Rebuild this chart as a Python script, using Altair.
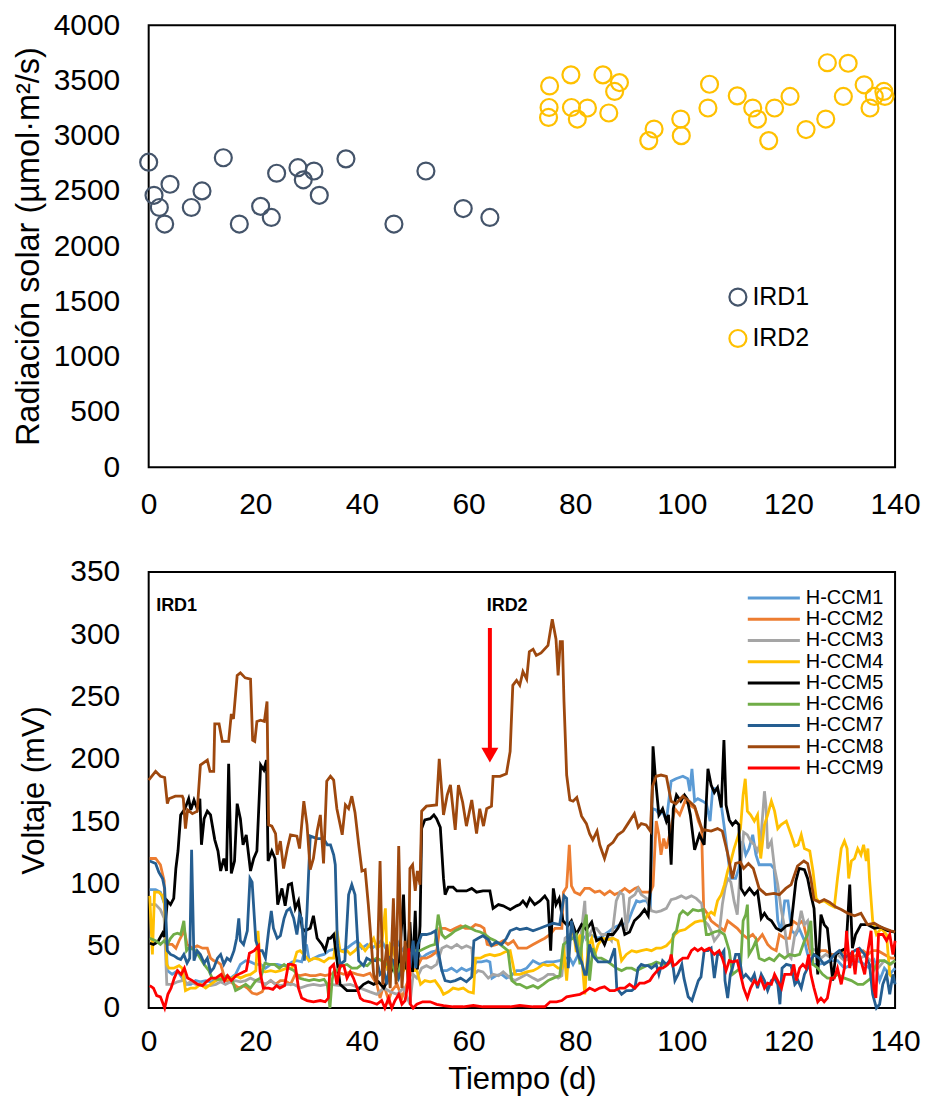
import altair as alt
import pandas as pd

FONT = "Liberation Sans"

# ---------------- Radiación solar (panel superior) ----------------
IRD1_DIA = [0, 1, 2, 3, 4, 8, 10, 14, 17, 21, 23, 24, 28, 29, 31, 32, 37, 46, 52, 59, 64]
IRD1_RAD = [2760, 2460, 2350, 2200, 2560, 2350, 2500, 2800, 2200, 2360, 2260,
            2660, 2710, 2600, 2680, 2460, 2790, 2200, 2680, 2340, 2260]

IRD2_DIA = [75.2, 79.2, 75.1, 75.0, 79.3, 80.4, 82.3, 85.2, 86.3, 88.3, 87.4,
            93.8, 94.8, 99.8, 99.9, 105.2, 104.9, 110.4, 113.3, 114.2, 116.3,
            117.4, 120.3, 123.3, 127.0, 127.3, 131.2, 130.3, 134.2, 135.3, 136.1,
            137.9, 138.1]
IRD2_RAD = [3450, 3550, 3255, 3165, 3255, 3150, 3250, 3550, 3205, 3480, 3400,
            2955, 3060, 3150, 3000, 3465, 3250, 3360, 3250, 3150, 2955,
            3250, 3355, 3055, 3150, 3660, 3655, 3355, 3460, 3250, 3355,
            3400, 3355]

DIA_TICKS = [0, 20, 40, 60, 80, 100, 120, 140]
RAD_TICKS = [0, 500, 1000, 1500, 2000, 2500, 3000, 3500, 4000]
MV_TICKS = [0, 50, 100, 150, 200, 250, 300, 350]

# ---------------- Voltaje de cada celda (panel inferior) ----------------
SERIES = ["H-CCM1", "H-CCM2", "H-CCM3", "H-CCM4", "H-CCM5",
          "H-CCM6", "H-CCM7", "H-CCM8", "H-CCM9"]
COLORES = ["#5B9BD5", "#ED7D31", "#A5A5A5", "#FFC000", "#000000",
           "#70AD47", "#255E91", "#9E480E", "#FF0000"]

# (día, mV)
H_CCM1 = [(0.2,95),(1.3,95),(2.2,93),(3.0,83),(3.5,30),(4.4,27),(5.4,30),(6.3,24),(7.2,19),(7.9,19),
          (8.8,22),(9.7,21),(10.7,22),(11.6,21),(12.6,22),(13.5,24),(14.4,22),(15.4,24),(16.3,27),(17.2,35),
          (18.2,38),(19.1,37),(20.1,35),(21.0,35),(21.9,32),(22.9,35),(24.1,35),(25.0,34),(25.9,34),(26.9,37),
          (27.8,38),(28.7,37),(29.6,51),(30.1,38),(31.0,40),(32.0,42),(32.9,43),(33.8,46),(35.3,48),(36.3,46),
          (37.2,48),(38.1,51),(39.1,54),(40.0,48),(41.0,51),(41.9,48),(42.8,51),(43.7,54),(44.7,46),(45.3,40),
          (45.9,51),(46.6,54),(47.5,46),(48.4,51),(49.4,48),(50.3,46),(51.2,40),(52.1,43),(53.0,45),(54.0,46),
          (55.0,30),(55.9,30),(56.8,32),(57.8,29),(58.7,32),(59.6,30),(60.6,32),(61.5,37),(62.4,37),(63.4,38),
          (64.0,37),(64.4,24),(65.2,26),(66.2,27),(67.1,24),(68.0,26),(69.0,30),(69.9,30),(70.9,32),(72.1,38),
          (73.4,35),(74.6,37),(75.9,37),(77.1,38),(78.1,40),(79.0,40),(79.6,35),(80.6,43),(81.5,56),(82.4,59),
          (83.3,58),(84.3,56),(85.2,58),(86.2,61),(87.1,64),(88.0,66),(89.0,67),(89.9,69),(90.8,79),(91.5,86),
          (92.1,85),(92.7,86),(93.4,86),(94.1,80),(94.5,160),(95.2,159),(95.8,155),(96.4,158),(97.1,150),(98.0,182),
          (98.9,184),(100.2,186),(101.1,184),(101.5,174),(101.9,192),(102.4,166),(103.0,168),(103.9,166),(104.6,164),(105.3,150),
          (105.8,176),(106.7,176),(107.4,163),(108.0,144),(108.6,123),(109.2,104),(110.1,104),(110.7,112),(111.4,134),(112.0,123),
          (112.6,128),(113.3,139),(113.9,123),(114.5,115),(115.1,115),(115.8,115),(116.7,115),(117.3,112),(118.0,70),(118.6,62),
          (119.3,86),(119.9,86),(120.6,62),(121.4,59),(122.0,64),(123.0,54),(123.6,43),(124.5,35),(125.5,35),(126.7,36),
          (128.0,38),(129.2,38),(130.5,32),(131.8,35),(133.0,38),(134.3,35),(135.2,32),(136.1,38),(137.1,22),(138.0,32),
          (139.0,27),(140.0,32)]

H_CCM2 = [(0.2,120),(1.3,120),(2.2,115),(2.9,102),(3.2,51),(3.8,51),(4.4,51),(5.1,48),(5.7,54),(6.3,59),
          (6.6,64),(7.2,51),(8.2,48),(9.1,50),(10.1,48),(11.0,48),(11.6,40),(12.2,38),(12.9,37),(13.5,35),
          (14.4,22),(15.1,22),(16.0,19),(16.9,16),(17.8,18),(18.5,16),(19.4,12),(20.3,11),(21.3,13),(21.9,19),
          (22.9,22),(23.8,19),(24.7,22),(25.6,22),(26.6,19),(27.5,27),(28.4,26),(29.4,27),(30.3,26),(31.3,26),
          (32.2,27),(33.1,26),(34.1,27),(35.3,29),(36.6,27),(37.8,29),(39.1,27),(40.3,26),(41.5,28),(42.8,19),
          (43.4,8),(44.1,19),(45.0,6),(45.6,14),(46.6,19),(47.5,8),(48.4,19),(49.4,29),(50.3,32),(51.2,40),
          (52.1,40),(53.0,42),(54.0,45),(54.6,64),(55.6,64),(56.6,62),(57.5,64),(58.5,66),(59.4,64),(60.4,64),
          (61.3,67),(62.2,66),(62.9,64),(63.5,51),(64.4,50),(65.3,51),(66.5,54),(67.4,51),(68.4,54),(69.3,48),
          (70.9,48),(72.1,51),(73.4,54),(74.3,56),(75.3,59),(76.2,64),(77.5,64),(77.8,93),(78.4,97),(78.9,131),
          (79.3,98),(79.9,93),(80.9,91),(81.8,96),(82.7,96),(83.7,93),(84.6,94),(85.5,91),(86.5,94),(87.4,91),
          (88.4,93),(89.3,96),(90.2,93),(91.2,96),(91.8,97),(92.4,93),(93.4,93),(94.1,93),(94.6,98),(95.2,150),
          (95.7,139),(96.1,123),(96.6,136),(97.1,128),(97.7,139),(98.7,160),(99.6,155),(100.6,166),(101.5,163),(102.5,160),
          (103.1,150),(103.7,144),(104.1,80),(104.9,75),(105.5,70),(106.4,67),(107.4,64),(108.0,62),(108.6,70),(109.5,67),
          (110.4,64),(111.4,59),(112.3,56),(113.3,59),(114.2,54),(115.1,59),(116.1,51),(116.8,48),(117.7,46),(118.3,59),
          (119.3,56),(120.2,56),(120.8,70),(121.8,67),(122.7,70),(123.3,59),(124.2,43),(125.2,43),(126.1,46),(127.0,46),
          (128.0,43),(128.9,43),(129.9,46),(130.8,43),(131.8,40),(133.0,43),(134.0,46),(134.9,43),(135.8,46),(136.8,46),
          (138.0,43),(139.2,40),(140.0,40)]

H_CCM3 = [(0.2,83),(1.3,83),(2.2,79),(2.9,72),(3.4,19),(4.4,19),(5.4,21),(6.3,22),(6.6,30),(6.9,19),
          (7.9,21),(8.8,19),(9.7,19),(10.7,18),(11.6,18),(12.6,19),(13.5,21),(14.4,19),(15.4,21),(16.3,22),
          (17.2,21),(18.2,22),(19.1,24),(20.1,22),(21.0,21),(21.9,19),(22.9,22),(23.8,19),(24.7,18),(25.9,19),
          (27.2,19),(28.4,16),(29.7,18),(30.9,19),(32.2,18),(33.4,19),(34.1,19),(35.9,18),(37.8,19),(39.7,16),
          (41.5,13),(42.8,11),(44.1,16),(45.3,13),(46.6,11),(47.8,16),(49.0,3),(49.6,27),(50.3,24),(51.2,32),
          (52.1,34),(53.0,32),(54.0,35),(55.0,48),(55.9,50),(56.8,48),(57.8,51),(58.7,48),(59.6,50),(60.6,48),
          (61.0,27),(61.8,30),(62.7,29),(63.7,24),(64.6,27),(65.6,26),(66.5,29),(67.8,24),(68.7,22),(69.6,24),
          (70.9,27),(72.1,24),(73.0,22),(74.0,24),(74.9,27),(75.9,27),(76.8,24),(77.5,26),(78.1,56),(79.0,59),
          (80.0,54),(80.9,51),(81.8,86),(82.1,56),(82.7,59),(83.3,64),(84.0,64),(84.9,59),(85.8,59),(86.8,54),
          (87.7,86),(88.4,93),(89.0,91),(89.6,62),(90.2,88),(91.2,91),(91.8,96),(92.4,91),(93.4,88),(94.3,78),
          (95.2,77),(96.1,78),(97.1,80),(98.0,87),(98.9,88),(99.9,90),(100.8,88),(101.8,90),(102.7,88),(103.7,84),
          (104.2,70),(104.9,67),(105.5,62),(106.1,54),(107.0,59),(107.6,83),(108.1,96),(108.6,104),(109.2,101),(109.8,86),
          (110.4,75),(111.0,112),(111.6,141),(112.3,139),(112.9,134),(113.6,131),(114.2,126),(114.8,134),(115.5,174),(115.8,161),
          (116.1,128),(116.8,134),(117.4,112),(118.0,99),(118.6,80),(119.3,64),(119.9,43),(120.5,40),(121.2,59),(121.8,64),
          (122.4,78),(123.0,67),(123.6,70),(124.2,48),(125.2,46),(126.1,40),(127.0,43),(128.0,40),(129.2,43),(130.5,38),
          (131.8,40),(133.0,39),(134.3,42),(135.5,38),(136.8,32),(138.0,38),(139.2,35),(140.0,38)]

H_CCM4 = [(0.2,90),(0.7,43),(1.1,93),(1.9,93),(2.6,90),(3.0,83),(3.4,35),(3.8,32),(4.7,32),(5.7,34),
          (6.3,32),(6.9,14),(7.9,16),(8.8,16),(9.7,19),(10.7,16),(11.6,19),(12.6,22),(13.5,24),(14.4,24),
          (15.4,23),(16.3,26),(17.2,24),(18.2,26),(19.1,27),(20.1,30),(20.5,62),(21.0,30),(21.9,29),(22.9,30),
          (23.8,29),(24.7,30),(25.9,32),(26.9,32),(27.8,45),(28.4,46),(29.1,43),(30.1,38),(31.0,40),(32.0,39),
          (32.9,37),(33.8,40),(34.7,40),(35.3,62),(35.9,46),(36.6,45),(37.2,46),(37.8,43),(38.7,46),(39.7,51),
          (40.6,46),(41.5,51),(42.2,56),(42.8,48),(43.7,51),(44.4,80),(44.8,30),(45.3,51),(45.9,48),(46.6,30),
          (47.2,38),(47.8,30),(48.4,35),(49.4,30),(50.3,30),(51.0,19),(51.8,22),(52.8,21),(53.7,22),(54.7,16),
          (55.3,11),(56.2,13),(57.1,16),(58.1,15),(59.0,16),(60.0,13),(60.9,12),(61.3,40),(62.2,40),(63.1,42),
          (64.0,43),(64.9,42),(65.9,43),(66.8,45),(67.8,46),(68.7,27),(69.6,27),(70.9,29),(72.1,30),(73.0,32),
          (74.0,35),(74.9,34),(75.9,35),(76.8,32),(77.5,32),(77.8,51),(78.4,22),(79.0,56),(79.6,64),(80.2,45),
          (80.9,59),(81.8,11),(82.4,48),(83.1,56),(83.7,43),(84.3,51),(85.2,56),(86.2,55),(87.1,56),(88.0,54),
          (88.7,38),(89.6,43),(90.6,46),(91.5,45),(92.4,46),(93.4,47),(94.3,46),(95.2,48),(96.1,48),(97.1,50),
          (98.0,54),(98.7,59),(99.6,62),(100.6,63),(101.5,66),(102.5,69),(103.4,70),(104.2,70),(104.9,75),(105.5,77),
          (106.1,75),(106.7,86),(107.4,91),(108.0,99),(108.6,110),(109.2,118),(109.8,128),(110.4,136),(111.0,144),(111.5,171),
          (111.9,184),(112.3,158),(112.9,155),(113.6,150),(114.2,155),(114.8,120),(115.5,147),(116.1,155),(116.8,166),(117.4,158),
          (118.0,144),(118.6,147),(119.6,150),(120.5,139),(121.2,130),(121.8,131),(122.4,139),(123.0,128),(124.0,126),(124.6,110),
          (125.2,88),(125.8,85),(126.7,86),(127.7,83),(128.6,81),(129.2,104),(129.9,128),(130.5,134),(131.0,128),(131.3,104),
          (131.8,118),(132.4,120),(133.0,128),(133.6,123),(134.1,131),(134.6,118),(134.9,128),(135.2,104),(135.8,70),(136.5,59),
          (137.4,64),(138.4,59),(139.0,27),(139.6,24),(140.0,24)]

H_CCM5 = [(0.2,52),(0.9,51),(1.7,53),(2.6,60),(2.9,57),(3.5,86),(4.1,83),(4.7,88),(5.1,112),(5.5,126),
          (6.0,155),(6.8,160),(7.5,168),(7.9,159),(8.5,167),(9.1,160),(9.6,168),(9.9,131),(10.4,152),(11.0,158),
          (11.6,155),(12.4,135),(13.0,126),(13.5,110),(14.1,120),(14.6,110),(15.0,196),(15.5,108),(16.1,118),(16.6,164),
          (17.2,152),(17.7,131),(18.3,139),(19.1,110),(19.7,120),(20.3,126),(21.0,195),(21.6,191),(22.1,199),(22.4,118),
          (23.1,126),(23.7,120),(24.2,83),(25.0,96),(25.6,82),(26.2,99),(26.8,100),(27.5,80),(28.1,86),(28.8,64),
          (29.3,62),(30.3,64),(30.9,74),(31.6,56),(32.5,51),(33.1,46),(33.7,56),(34.1,56),(34.7,59),(35.3,39),
          (35.9,19),(37.2,14),(39.1,14),(40.3,19),(41.2,21),(42.2,19),(43.1,21),(44.1,16),(45.0,24),(45.9,34),
          (46.9,29),(47.8,91),(48.3,31),(49.0,69),(49.5,29),(50.0,78),(50.4,31),(50.9,66),(51.2,144),(51.8,151),
          (52.8,152),(53.5,155),(54.0,152),(54.7,145),(55.3,104),(55.6,91),(56.2,97),(57.1,97),(57.8,94),(58.7,94),
          (59.6,94),(60.6,96),(61.5,93),(62.7,94),(64.0,94),(64.6,80),(65.6,83),(66.5,82),(67.8,79),(69.0,82),
          (69.6,83),(70.2,86),(70.9,82),(71.5,88),(72.4,83),(73.4,86),(74.3,90),(74.9,86),(75.4,46),(75.9,96),
          (76.4,83),(77.0,88),(77.7,70),(78.6,66),(79.3,70),(80.2,59),(81.2,67),(82.1,63),(83.1,69),(84.0,54),
          (84.9,56),(85.5,51),(86.2,59),(87.1,59),(88.0,64),(88.7,70),(89.3,59),(90.2,61),(91.1,70),(92.1,74),
          (93.0,79),(93.7,74),(94.1,96),(94.6,210),(95.1,182),(95.7,155),(96.4,160),(97.1,150),(97.5,155),(98.0,115),
          (98.4,160),(99.0,171),(99.8,166),(100.5,171),(101.0,168),(101.6,155),(102.4,127),(103.3,139),(104.2,131),(104.9,192),
          (105.5,179),(106.1,173),(106.7,177),(107.4,161),(107.9,215),(108.3,163),(108.9,151),(109.5,147),(110.1,150),(110.7,147),
          (111.1,96),(111.8,91),(112.7,96),(113.6,91),(114.2,94),(114.9,72),(115.5,76),(116.1,72),(116.8,70),(117.7,64),
          (118.6,62),(119.6,66),(120.5,67),(121.4,102),(122.0,112),(123.0,111),(123.6,104),(124.2,91),(124.8,80),(125.5,27),
          (126.1,75),(126.7,67),(127.3,64),(128.3,22),(128.9,43),(129.9,46),(130.8,48),(131.5,99),(132.0,48),(132.6,59),
          (133.6,67),(134.8,67),(136.1,64),(137.3,65),(138.6,62),(140.0,61)]

H_CCM6 = [(0.2,56),(1.3,54),(2.2,51),(2.9,54),(3.5,51),(4.1,56),(4.7,59),(5.4,60),(6.0,59),(6.6,70),
          (7.1,46),(7.5,48),(8.5,47),(9.4,42),(10.4,35),(11.3,30),(11.9,24),(12.9,23),(13.8,23),(14.7,26),
          (15.7,22),(16.3,14),(17.2,16),(18.2,19),(19.1,16),(20.1,22),(21.0,24),(21.8,36),(22.6,35),(23.6,35),
          (24.5,32),(25.4,35),(26.3,32),(27.3,30),(28.2,24),(29.1,23),(30.1,22),(31.0,23),(32.0,22),(32.9,23),
          (33.5,19),(34.0,0),(34.4,22),(34.7,29),(35.3,30),(36.3,34),(37.2,35),(38.1,32),(39.1,32),(40.0,35),
          (41.0,34),(41.9,38),(42.8,40),(43.7,38),(44.7,35),(45.6,37),(46.6,22),(47.2,35),(48.1,40),(49.0,43),
          (50.0,46),(50.9,46),(51.8,48),(52.8,50),(53.7,51),(54.3,75),(55.0,59),(55.6,56),(56.6,59),(57.5,62),
          (58.5,64),(59.4,66),(60.4,64),(61.3,62),(62.2,61),(63.1,59),(64.0,56),(65.0,54),(65.9,51),(66.8,48),
          (67.4,46),(68.1,22),(69.0,19),(69.6,19),(70.9,16),(72.1,18),(73.0,16),(74.0,19),(74.9,22),(75.9,24),
          (77.1,26),(77.8,51),(78.7,54),(79.6,56),(80.2,59),(80.9,35),(81.5,64),(82.1,75),(82.7,22),(83.3,48),
          (84.0,40),(84.9,40),(85.8,38),(86.8,35),(87.7,32),(88.7,30),(89.6,32),(90.6,32),(91.5,30),(92.4,32),
          (93.4,34),(94.3,35),(95.2,37),(96.4,35),(97.4,35),(98.0,38),(98.4,59),(99.0,62),(99.6,75),(100.2,78),
          (101.1,75),(102.1,79),(103.1,78),(104.0,79),(104.6,59),(105.1,59),(106.1,61),(107.0,62),(108.0,59),(108.9,46),
          (109.5,27),(110.4,30),(111.0,32),(111.5,70),(112.0,75),(112.3,83),(112.6,43),(113.3,48),(113.9,54),(114.5,40),
          (115.5,38),(116.4,40),(117.3,38),(118.3,43),(119.3,40),(120.2,43),(121.2,42),(122.1,43),(123.0,54),(123.6,59),
          (124.2,70),(124.6,35),(125.5,32),(126.4,27),(127.3,24),(128.3,24),(129.2,27),(130.5,24),(131.8,22),(133.0,19),
          (134.0,19),(134.9,22),(135.5,24),(136.1,32),(137.1,38),(138.0,38),(139.0,35),(140.0,38)]

H_CCM7 = [(0.2,118),(1.3,116),(1.9,109),(2.6,104),(3.0,96),(3.5,46),(4.1,43),(4.7,42),(5.4,40),(6.0,39),
          (6.6,43),(7.2,36),(7.7,40),(8.05,127),(8.5,38),(9.1,46),(9.7,43),(10.4,36),(11.0,40),(11.6,29),
          (12.2,32),(12.9,40),(13.5,43),(14.1,35),(14.7,40),(15.3,38),(16.0,46),(16.5,56),(16.9,72),(17.2,54),
          (17.8,51),(18.5,62),(19.0,104),(19.4,101),(20.1,54),(20.7,46),(21.3,46),(21.9,40),(22.5,62),(23.0,78),
          (23.4,64),(24.1,56),(24.7,58),(25.4,72),(25.9,78),(26.5,80),(27.2,72),(27.8,59),(28.3,75),(28.7,72),
          (29.2,38),(29.7,78),(30.3,138),(31.6,136),(32.8,136),(33.5,131),(34.1,131),(34.7,123),(35.0,115),(35.4,51),
          (35.9,35),(36.8,38),(37.5,91),(38.1,99),(38.7,91),(39.4,38),(40.3,34),(40.9,40),(41.8,38),(42.8,38),
          (43.4,27),(44.1,30),(44.7,19),(45.3,40),(45.9,38),(46.9,24),(47.5,32),(48.1,46),(49.0,32),(49.6,54),
          (50.1,32),(50.5,51),(51.2,59),(52.1,59),(53.0,60),(53.8,62),(54.3,46),(55.0,30),(55.6,22),(56.6,21),
          (57.5,22),(58.5,24),(59.6,21),(60.6,25),(61.0,54),(61.8,56),(62.7,58),(63.7,55),(64.3,50),(65.2,53),
          (66.2,51),(67.1,56),(67.8,62),(69.0,64),(69.6,63),(70.9,64),(72.1,62),(73.4,64),(74.6,66),(75.9,68),
          (77.1,67),(77.9,90),(78.4,88),(78.7,32),(79.3,70),(79.9,56),(80.6,42),(81.2,37),(81.8,27),(82.1,27),
          (82.7,51),(83.3,42),(84.3,37),(85.2,37),(86.5,37),(87.4,48),(87.8,16),(88.7,11),(89.6,14),(90.6,14),
          (91.2,16),(91.8,32),(92.4,35),(93.0,34),(93.7,34),(94.3,32),(95.2,35),(95.7,27),(96.4,38),(97.1,35),
          (97.9,39),(98.4,32),(98.7,22),(99.3,27),(100.0,35),(100.4,24),(101.2,9),(101.9,6),(102.5,14),(103.1,22),
          (103.6,25),(104.2,46),(104.9,46),(105.5,48),(106.1,24),(106.7,43),(107.4,43),(107.9,46),(108.1,22),(108.6,8),
          (109.1,27),(109.5,32),(110.1,43),(110.7,43),(111.4,24),(112.0,27),(113.0,22),(113.6,27),(114.2,16),(114.9,27),
          (115.5,22),(116.1,14),(116.8,22),(117.4,24),(118.0,19),(118.4,3),(118.8,32),(119.6,35),(120.5,34),(121.2,19),
          (121.8,22),(122.4,16),(123.0,27),(123.6,32),(124.2,38),(124.8,43),(125.8,40),(126.7,35),(127.7,38),(128.6,43),
          (129.5,46),(130.5,40),(131.5,43),(132.4,46),(133.3,48),(134.3,43),(135.2,35),(135.8,11),(136.5,0),(137.1,3),
          (137.7,19),(138.4,27),(139.0,11),(139.6,27),(140.0,19)]

H_CCM8 = [(0.0,183),(1.3,190),(2.2,186),(3.0,185),(3.5,164),(3.8,168),(5.0,170),(6.3,170),(6.5,168),(6.9,144),
          (7.3,159),(8.2,156),(9.1,158),(9.7,195),(11.0,199),(11.5,190),(12.2,190),(12.4,228),(13.2,228),(13.8,214),
          (15.0,214),(15.5,236),(15.9,232),(16.6,267),(17.2,269),(18.1,265),(19.1,264),(19.5,215),(19.9,214),(20.3,230),
          (21.0,231),(21.7,230),(22.2,246),(22.5,147),(23.1,146),(23.8,140),(24.1,123),(24.7,134),(25.3,112),(26.0,128),
          (26.6,139),(27.8,138),(28.3,128),(29.1,166),(29.7,147),(30.3,111),(30.9,120),(31.6,142),(32.2,155),(32.8,116),
          (33.4,182),(34.1,186),(34.7,183),(35.3,160),(36.3,139),(36.9,163),(37.5,160),(38.1,170),(38.7,157),(39.4,131),
          (40.0,110),(40.6,111),(41.2,83),(42.2,27),(42.8,19),(43.4,118),(43.9,19),(44.7,51),(45.3,16),(45.9,88),
          (46.4,19),(46.9,130),(47.5,16),(48.1,54),(48.7,19),(49.0,112),(49.5,115),(50.0,94),(50.4,110),(50.9,99),
          (51.2,158),(52.1,162),(54.0,163),(54.5,200),(55.3,155),(56.0,171),(56.6,179),(57.5,143),(58.1,179),(58.9,165),
          (59.6,146),(60.6,167),(61.5,140),(62.1,160),(62.8,146),(63.4,160),(64.3,162),(64.6,186),(65.9,186),(67.1,188),
          (67.8,206),(68.3,259),(69.0,263),(69.6,259),(70.2,270),(70.9,264),(71.4,286),(72.1,288),(72.7,283),(73.6,285),
          (74.9,291),(75.7,312),(76.4,296),(76.8,267),(77.2,294),(77.6,294),(77.9,246),(78.4,187),(79.0,167),(79.6,166),
          (80.3,169),(81.2,154),(82.1,148),(82.7,140),(83.3,135),(84.1,142),(84.6,131),(85.5,120),(86.2,130),(87.1,133),
          (88.0,139),(89.0,142),(89.9,148),(91.1,156),(91.8,145),(92.4,148),(93.3,147),(94.1,142),(94.5,178),(95.2,186),
          (96.1,187),(97.1,186),(98.0,166),(98.9,164),(100.2,170),(101.4,166),(102.4,162),(103.3,150),(103.9,142),(104.2,143),
          (105.5,142),(106.7,144),(107.6,142),(108.6,124),(109.5,104),(110.1,116),(111.0,117),(111.6,112),(112.5,116),(113.4,112),
          (114.5,96),(115.8,91),(117.3,92),(118.3,91),(119.5,96),(120.5,99),(121.7,114),(122.9,118),(123.6,116),(124.2,104),
          (124.8,87),(125.8,85),(126.7,87),(127.7,85),(128.9,81),(129.9,79),(131.1,76),(132.4,74),(133.6,76),(134.8,67),
          (136.1,68),(137.3,65),(139.2,62),(140.0,61)]

H_CCM9 = [(0.2,18),(0.9,16),(1.5,10),(2.2,9),(3.0,0),(3.6,11),(4.2,16),(4.8,24),(5.4,30),(6.1,27),
          (6.7,32),(7.3,24),(8.2,22),(9.2,19),(10.1,18),(10.8,21),(11.7,24),(12.6,24),(13.6,27),(14.2,22),
          (14.8,26),(15.5,22),(16.4,26),(17.3,28),(18.3,30),(18.9,44),(19.8,46),(20.6,50),(20.9,29),(21.5,16),
          (22.5,16),(23.3,15),(24.0,18),(24.6,16),(25.5,18),(26.2,35),(26.8,35),(27.5,34),(28.1,16),(28.7,8),
          (29.7,6),(30.9,5),(32.2,6),(33.1,5),(33.7,8),(34.0,32),(34.7,35),(35.3,19),(35.9,34),(36.6,34),
          (37.2,24),(37.8,29),(38.4,24),(39.1,16),(39.7,8),(40.3,6),(41.5,5),(42.8,3),(43.7,6),(44.3,0),
          (45.0,8),(45.6,0),(46.2,6),(46.9,11),(47.5,3),(48.1,6),(48.6,19),(48.8,48),(49.1,3),(49.6,0),
          (50.3,3),(51.4,5),(52.8,5),(54.0,3),(55.3,2),(57.1,1),(59.0,1),(60.9,2),(62.7,1),(65.2,1),
          (67.8,1),(69.6,2),(72.1,1),(74.3,1),(75.3,5),(76.5,5),(77.5,6),(78.4,9),(79.6,10),(80.9,11),
          (81.8,13),(82.7,16),(83.7,14),(84.6,16),(85.5,17),(86.5,14),(87.4,14),(88.4,16),(89.3,16),(90.2,19),
          (91.2,16),(92.1,20),(93.0,20),(94.0,22),(94.6,26),(95.2,29),(95.8,32),(96.4,32),(97.1,34),(97.7,37),
          (98.0,43),(98.4,34),(98.9,35),(99.6,38),(100.2,40),(101.1,40),(101.8,46),(102.4,48),(103.0,46),(103.7,48),
          (104.2,46),(105.1,48),(106.1,43),(107.0,46),(107.6,40),(108.3,30),(108.9,38),(109.5,37),(110.4,38),(111.0,27),
          (111.6,16),(112.3,8),(112.9,16),(113.6,22),(114.2,19),(114.8,24),(115.5,16),(116.1,20),(116.8,19),(117.4,27),
          (118.0,22),(118.7,16),(119.3,27),(119.9,27),(120.5,27),(121.0,35),(121.5,22),(122.1,32),(122.7,35),(123.3,32),
          (123.8,43),(124.2,27),(124.8,16),(125.5,5),(126.1,8),(126.7,5),(127.3,8),(128.0,24),(128.6,24),(129.2,32),
          (129.9,19),(130.5,32),(130.9,62),(131.5,32),(132.0,46),(132.5,27),(133.0,48),(133.6,38),(134.3,27),(134.8,43),
          (135.5,62),(136.0,16),(136.4,8),(136.9,59),(137.7,59),(138.4,54),(139.0,59),(139.6,43),(140.0,54)]

# Flecha de inicio del segundo periodo y rótulos de periodo
FLECHA_DIA = 64.0
FLECHA_INICIO_MV = 305
FLECHA_PUNTA_MV = 203
ROTULOS = ["IRD1", "IRD2"]
ROTULO_DIA = [1.4, 63.4]
ROTULO_MV = [323, 323]

# ---------------- Tablas ----------------
rad_df = pd.DataFrame({
    "dia": IRD1_DIA + IRD2_DIA,
    "rad": IRD1_RAD + IRD2_RAD,
    "grupo": ["IRD1"] * len(IRD1_DIA) + ["IRD2"] * len(IRD2_DIA),
})

filas = []
for nombre, serie in zip(SERIES, [H_CCM1, H_CCM2, H_CCM3, H_CCM4, H_CCM5,
                                  H_CCM6, H_CCM7, H_CCM8, H_CCM9]):
    for d, v in serie:
        filas.append({"dia": d, "mv": v, "serie": nombre})
volt_df = pd.DataFrame(filas)

flecha_df = pd.DataFrame({"dia": [FLECHA_DIA], "ini": [FLECHA_INICIO_MV],
                          "punta": [FLECHA_PUNTA_MV]})
rotulo_df = pd.DataFrame({"dia": ROTULO_DIA, "mv": ROTULO_MV, "txt": ROTULOS})

x_scale = alt.Scale(domain=[0, 140], nice=False, zero=False)
W = 748

# ---------------- Panel superior ----------------
top = alt.Chart(rad_df).mark_point(
    shape="circle", filled=False, size=289, strokeWidth=2.2, opacity=1
).encode(
    x=alt.X("dia:Q", scale=x_scale,
            axis=alt.Axis(values=DIA_TICKS, title=None, labelPadding=22, labelFlush=False,
                          format="d")),
    y=alt.Y("rad:Q", scale=alt.Scale(domain=[0, 4000], nice=False),
            axis=alt.Axis(values=RAD_TICKS, title="Radiación solar (µmol·m²/s)",
                          labelPadding=29, titlePadding=8, titleFontSize=32.5, format="d")),
    color=alt.Color("grupo:N",
                    scale=alt.Scale(domain=["IRD1", "IRD2"], range=["#44546A", "#FFC000"]),
                    legend=alt.Legend(title=None, orient="none", legendX=578, legendY=260,
                                      symbolType="circle", symbolSize=289,
                                      symbolStrokeWidth=2.2, labelFontSize=25,
                                      labelOffset=2, rowPadding=14.5, padding=0)),
).properties(width=W, height=443)

# ---------------- Panel inferior ----------------
lines = alt.Chart(volt_df).mark_line(strokeWidth=2.8).encode(
    x=alt.X("dia:Q", scale=x_scale,
            axis=alt.Axis(values=DIA_TICKS, title="Tiempo (d)", labelPadding=19,
                          titlePadding=8, labelFlush=False, format="d")),
    y=alt.Y("mv:Q", scale=alt.Scale(domain=[0, 350], nice=False),
            axis=alt.Axis(values=MV_TICKS, title="Voltaje (mV)", labelPadding=29,
                          titlePadding=19, format="d")),
    color=alt.Color("serie:N", scale=alt.Scale(domain=SERIES, range=COLORES),
                    sort=SERIES,
                    legend=alt.Legend(title=None, orient="none", legendX=600, legendY=16,
                                      symbolType="M-5.8,0H5.8", symbolSize=81,
                                      symbolStrokeWidth=3, symbolOffset=16.5,
                                      labelOffset=22, labelFontSize=20,
                                      rowPadding=1.3, padding=0)),
)

shaft = alt.Chart(flecha_df).mark_rule(color="#FF0000", strokeWidth=4).encode(
    x="dia:Q", y="ini:Q", y2="punta:Q")
head = alt.Chart(flecha_df).mark_point(
    shape="triangle-down", filled=True, color="#FF0000", size=289, opacity=1
).encode(x="dia:Q", y="punta:Q")
rotulos = alt.Chart(rotulo_df).mark_text(
    font=FONT, fontSize=18, fontWeight="bold", align="left", baseline="middle", color="black"
).encode(x="dia:Q", y="mv:Q", text="txt:N")

bottom = alt.layer(lines, shaft, head, rotulos).properties(width=W, height=437)

chart = alt.vconcat(top, bottom, spacing=36).resolve_scale(
    color="independent"
).resolve_legend(
    color="independent"
).properties(
    padding={"left": 11, "top": 8, "right": 5, "bottom": 5}
).configure_view(
    stroke="black", strokeWidth=2
).configure_axis(
    grid=False, ticks=False, domain=False,
    labelFont=FONT, labelFontSize=30, labelColor="black",
    titleFont=FONT, titleFontSize=31, titleColor="black", titleFontWeight="normal",
).configure_legend(
    labelFont=FONT, labelColor="black"
)

chart.save("out.html", embed_options={"renderer": "svg", "actions": False})
